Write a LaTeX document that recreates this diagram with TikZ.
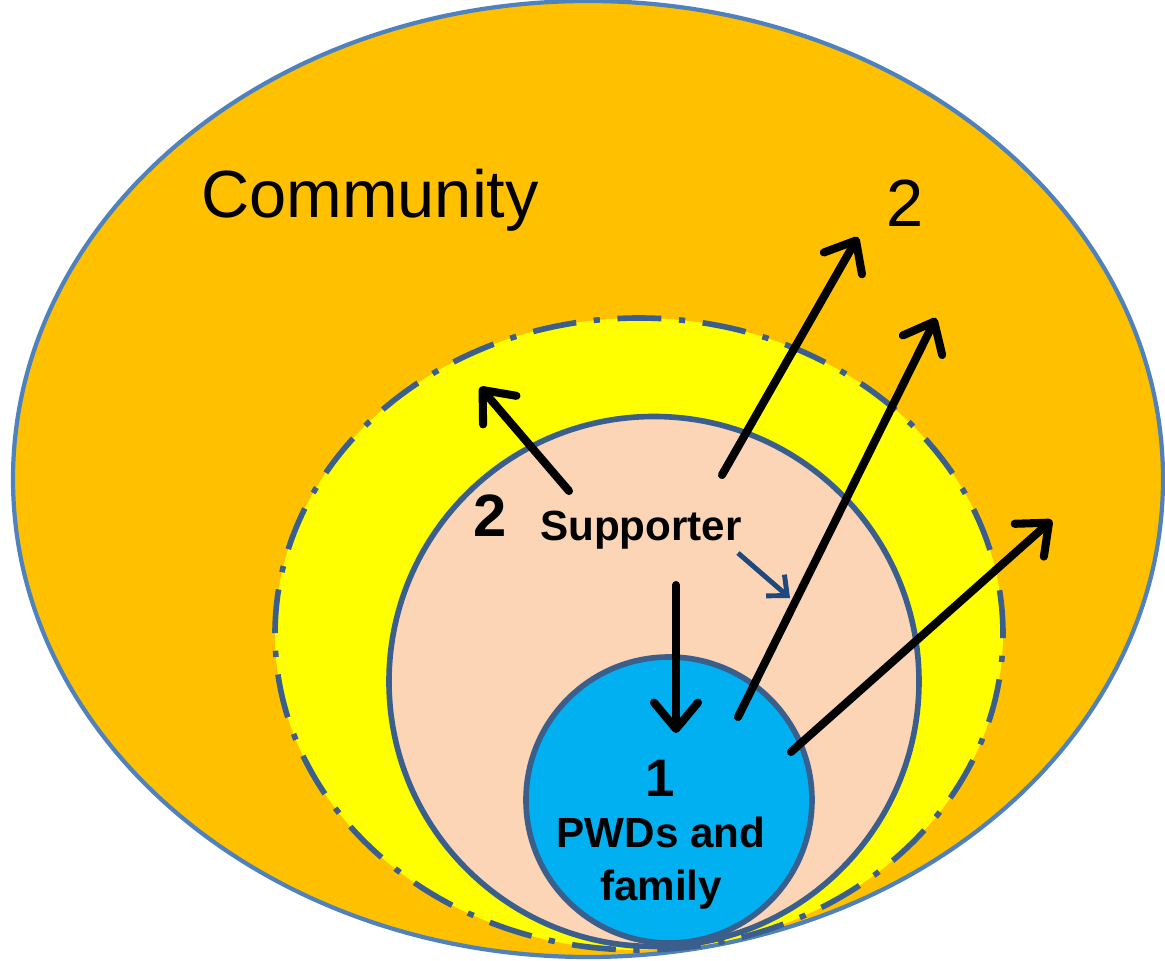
\documentclass[tikz,border=0pt]{standalone}
\usepackage{fontspec}
\setmainfont{Liberation Sans}
\usetikzlibrary{arrows.meta}

\definecolor{ringorange}{HTML}{FFC000}
\definecolor{ringyellow}{HTML}{FFFF00}
\definecolor{ringpeach}{HTML}{FBD5B5}
\definecolor{ringblue}{HTML}{00B0F0}
\definecolor{edgeblue}{HTML}{4F81BD}
\definecolor{edgedark}{HTML}{3B5F8C}
\definecolor{smallarrow}{HTML}{1F497D}

\tikzset{
	every picture/.style={>={Straight Barb[length=7.5pt,width=12.5pt,line cap=round,line join=round]}},
	ring/.style={line width=1.6pt, draw=edgedark},
	bigarrow/.style={->, line width=2.3pt, line cap=round},
	label/.style={inner sep=0pt, font=\fontsize{19}{22}\selectfont},
	boldlabel/.style={inner sep=0pt, font=\bfseries\fontsize{12}{15}\selectfont, align=center}
}

\begin{document}
\begin{tikzpicture}
	\useasboundingbox (0,0) rectangle (11.65,9.6) ;
	% rings, outer to inner
	\fill[ringorange, draw=edgeblue, line width=1.2pt] (5.88,4.81) ellipse [x radius=5.75, y radius=4.78] ;
	\fill[ringyellow, ring, dash pattern=on 12.5pt off 5pt on 1.8pt off 5pt] (6.39,3.26) ellipse [x radius=3.64, y radius=3.16] ;
	\fill[ringpeach, ring] (6.54,2.785) circle (2.65) ;
	\fill[ringblue, ring] (6.69,1.60) circle (1.43) ;

	\node[label] (community) at (3.70,7.60) {Community} ;
	\node[label] (outer2) at (9.05,7.57) {2} ;
	\node[label, font=\bfseries\fontsize{17}{20}\selectfont] (inner2) at (4.90,4.44) {2} ;
	\node[boldlabel] (supporter) at (6.41,4.30) {Supporter} ;
	\node[boldlabel, font=\bfseries\fontsize{15}{18}\selectfont] (one) at (6.60,1.82) {1} ;
	\node[boldlabel] (pwds) at (6.61,0.97) {PWDs and\\family} ;

	% arrow ends
	\coordinate (supNW) at (5.69,4.69) ;
	\coordinate (tipNW) at (4.80,5.73) ;
	\coordinate (supNE) at (7.22,4.85) ;
	\coordinate (tipNE) at (8.58,7.23) ;
	\coordinate (supS) at (6.76,3.75) ;
	\coordinate (tipS) at (6.76,2.27) ;
	\coordinate (supSE) at (7.38,4.07) ;
	\coordinate (tipSE) at (7.90,3.62) ;
	\coordinate (pwdA) at (7.38,2.43) ;
	\coordinate (tipA) at (9.36,6.42) ;
	\coordinate (pwdB) at (7.91,2.08) ;
	\coordinate (tipB) at (10.52,4.40) ;

	\draw[bigarrow] (supNW) -- (tipNW) ;
	\draw[bigarrow] (supNE) -- (tipNE) ;
	\draw[bigarrow] (supS) -- (tipS) ;
	\draw[bigarrow] (pwdA) -- (tipA) ;
	\draw[bigarrow] (pwdB) -- (tipB) ;
	\draw[->, smallarrow, line width=1.4pt, >={Straight Barb[length=4.5pt,width=8pt]}] (supSE) -- (tipSE) ;
\end{tikzpicture}
\end{document}
